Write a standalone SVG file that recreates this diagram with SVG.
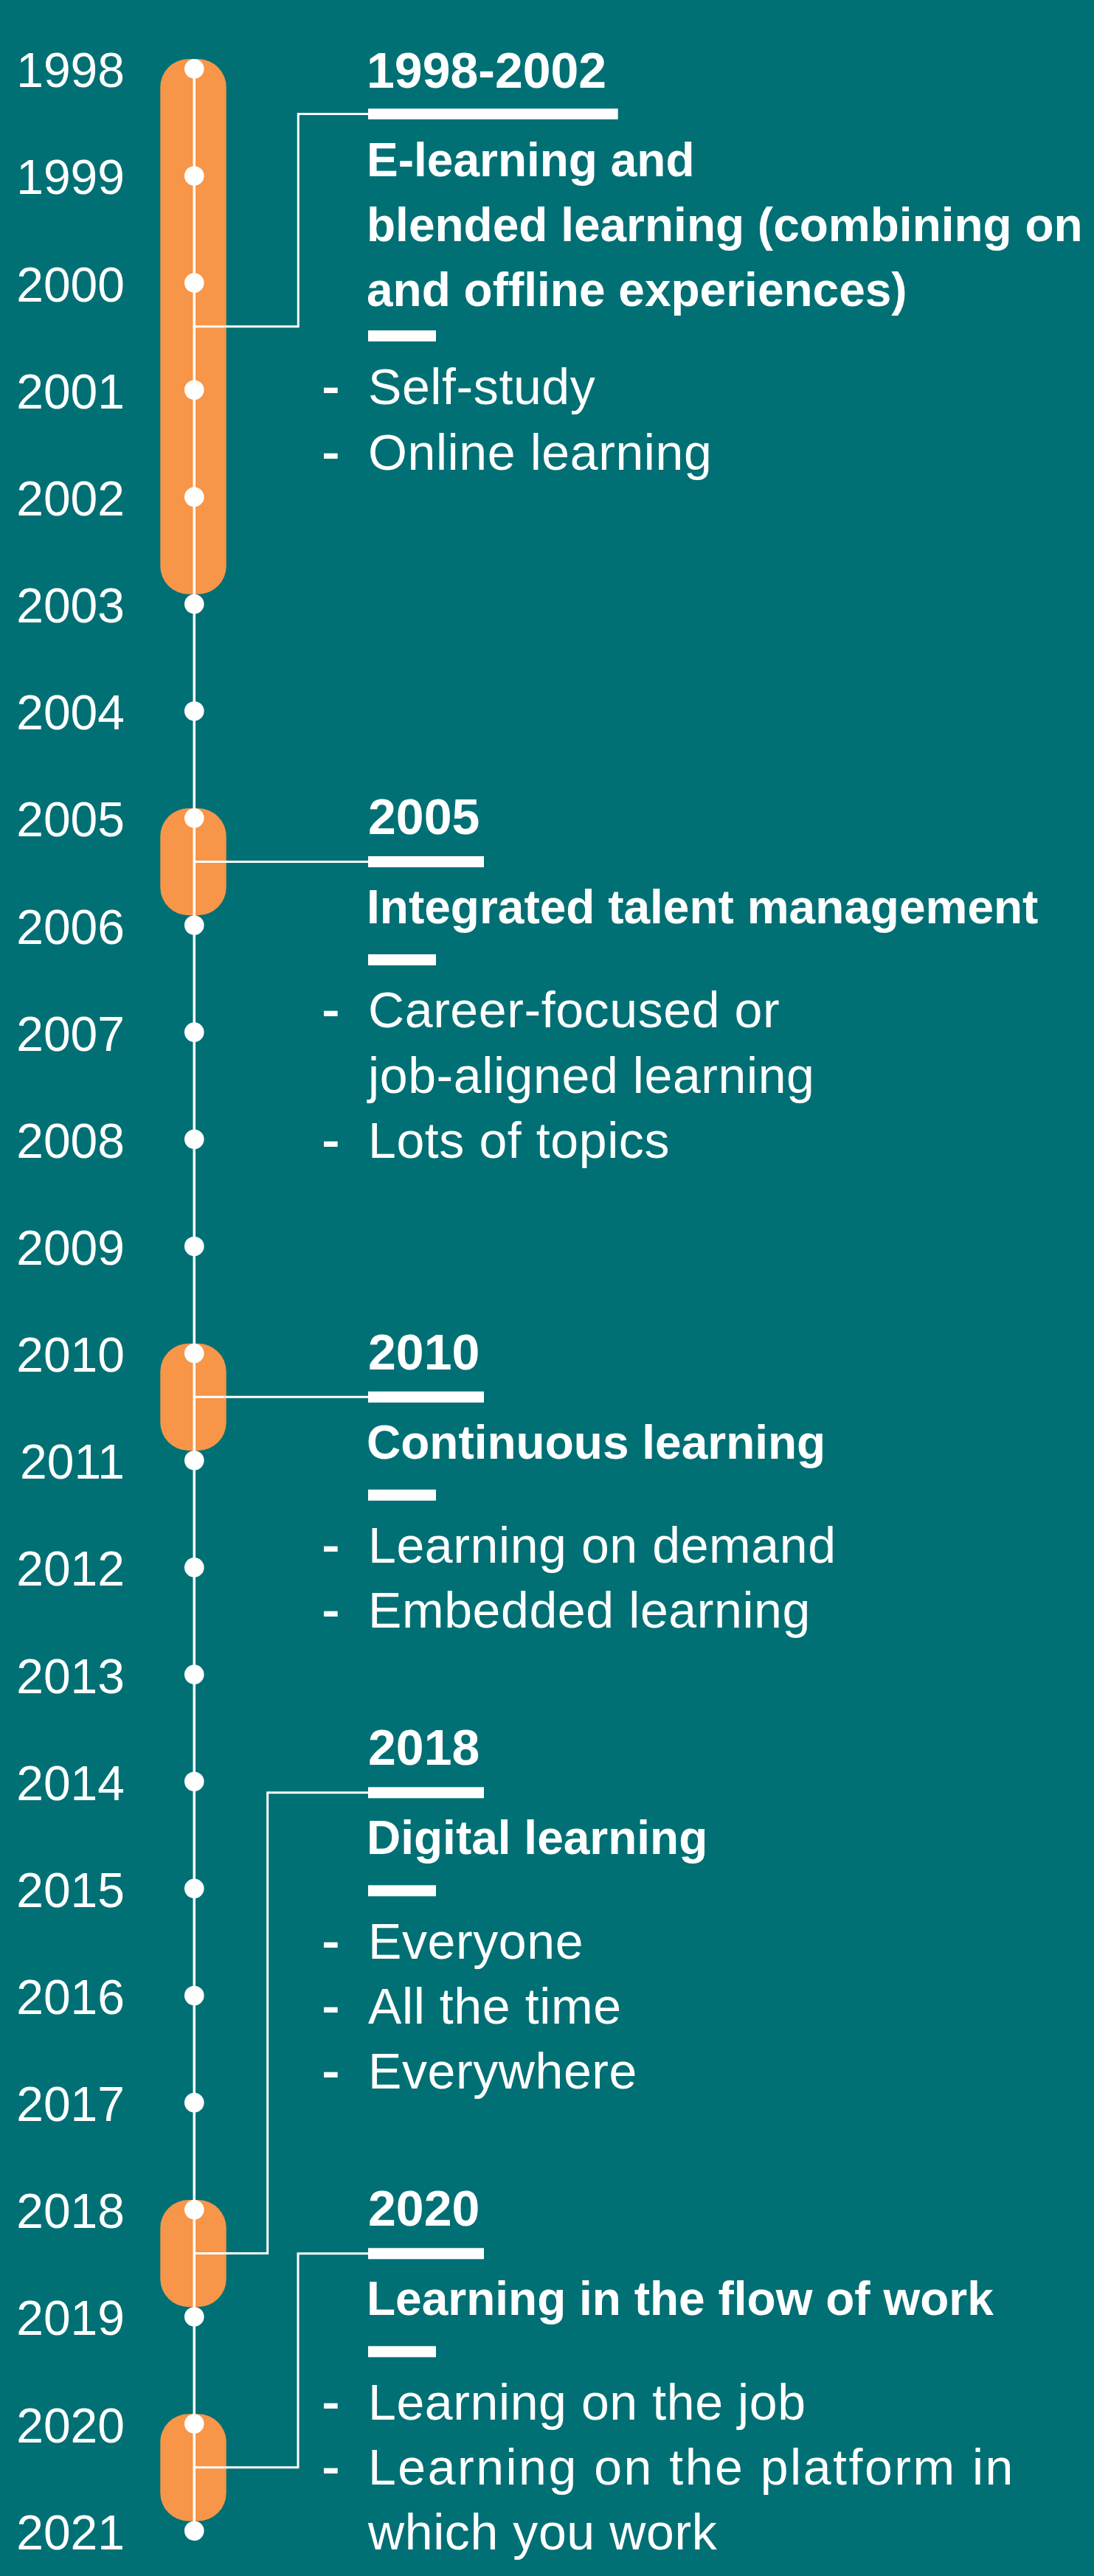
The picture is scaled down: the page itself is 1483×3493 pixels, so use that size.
<svg xmlns="http://www.w3.org/2000/svg" width="1483" height="3493" viewBox="0 0 1483 3493">
  <style>
    text { font-family: "Liberation Sans", Arial, sans-serif; fill: #ffffff; }
    .year { font-size: 66px; text-anchor: end; }
    .head { font-size: 68px; font-weight: 700; }
    .title { font-size: 64px; font-weight: 700; }
    .body { font-size: 68px; letter-spacing: 0.6px; }
    .dash { font-size: 68px; stroke: #ffffff; stroke-width: 2; }
    .span { fill: #F79548; }
    .rule { fill: #ffffff; }
    .dot { fill: #ffffff; }
    .wire { fill: none; stroke: #ffffff; stroke-width: 3; }
    .axis { stroke: #ffffff; stroke-width: 3.5; }
  </style>

  <!-- background -->
  <rect x="0" y="0" width="1483" height="3493" fill="#007075"/>

  <!-- era 1998-2002 -->
  <g id="era-1998">
    <rect class="span" x="217.3" y="80" width="89.4" height="725.7" rx="38"/>
    <text class="head" x="497" y="119">1998-2002</text>
    <rect class="rule" x="499" y="147.3" width="338.7" height="14.5"/>
    <text class="title" x="497" y="239">E-learning and</text>
    <text class="title" x="497" y="327">blended learning (combining on</text>
    <text class="title" x="497" y="415">and offline experiences)</text>
    <rect class="rule" x="499" y="448" width="92" height="15"/>
    <text class="dash" x="437" y="548.3">-</text>
    <text class="body" x="499" y="548.3">Self-study</text>
    <text class="dash" x="437" y="636.7">-</text>
    <text class="body" x="499" y="636.7">Online learning</text>
  </g>

  <!-- era 2005 -->
  <g id="era-2005">
    <rect class="span" x="217.3" y="1096" width="89.4" height="145.2" rx="38"/>
    <text class="head" x="499" y="1131">2005</text>
    <rect class="rule" x="499" y="1161" width="157" height="15"/>
    <text class="title" x="497" y="1251.7">Integrated talent management</text>
    <rect class="rule" x="499" y="1294" width="92" height="15"/>
    <text class="dash" x="437" y="1393.3">-</text>
    <text class="body" x="499" y="1393.3">Career-focused or</text>
    <text class="body" x="499" y="1481.6">job-aligned learning</text>
    <text class="dash" x="437" y="1569.9">-</text>
    <text class="body" x="499" y="1569.9">Lots of topics</text>
  </g>

  <!-- era 2010 -->
  <g id="era-2010">
    <rect class="span" x="217.3" y="1821.8" width="89.4" height="145.2" rx="38"/>
    <text class="head" x="499" y="1856.8">2010</text>
    <rect class="rule" x="499" y="1886.8" width="157" height="15"/>
    <text class="title" x="497" y="1977.5">Continuous learning</text>
    <rect class="rule" x="499" y="2019.8" width="92" height="15"/>
    <text class="dash" x="437" y="2119.1">-</text>
    <text class="body" x="499" y="2119.1">Learning on demand</text>
    <text class="dash" x="437" y="2207.4">-</text>
    <text class="body" x="499" y="2207.4">Embedded learning</text>
  </g>

  <!-- era 2018 -->
  <g id="era-2018">
    <rect class="span" x="217.3" y="2983" width="89.4" height="145.2" rx="38"/>
    <text class="head" x="499" y="2393.3">2018</text>
    <rect class="rule" x="499" y="2423.3" width="157" height="15"/>
    <text class="title" x="497" y="2514">Digital learning</text>
    <rect class="rule" x="499" y="2556.3" width="92" height="15"/>
    <text class="dash" x="437" y="2655.6">-</text>
    <text class="body" x="499" y="2655.6">Everyone</text>
    <text class="dash" x="437" y="2743.9">-</text>
    <text class="body" x="499" y="2743.9">All the time</text>
    <text class="dash" x="437" y="2832.2">-</text>
    <text class="body" x="499" y="2832.2">Everywhere</text>
  </g>

  <!-- era 2020 -->
  <g id="era-2020">
    <rect class="span" x="217.3" y="3273.3" width="89.4" height="145.2" rx="38"/>
    <text class="head" x="499" y="3018.3">2020</text>
    <rect class="rule" x="499" y="3048.3" width="157" height="15"/>
    <text class="title" x="497" y="3139">Learning in the flow of work</text>
    <rect class="rule" x="499" y="3181.3" width="92" height="15"/>
    <text class="dash" x="437" y="3280.6">-</text>
    <text class="body" x="499" y="3280.6">Learning on the job</text>
    <text class="dash" x="437" y="3368.9">-</text>
    <text class="body" x="499" y="3368.9" textLength="875" lengthAdjust="spacing">Learning on the platform in</text>
    <text class="body" x="499" y="3457.2">which you work</text>
  </g>

  <!-- vertical time axis -->
  <g id="axis">
    <line class="axis" x1="263.3" y1="93.3" x2="263.3" y2="3431.8"/>
  </g>

  <!-- connectors from each span to its description -->
  <g id="connectors">
    <path class="wire" d="M263.3 442.8 H404.3 V154.5 H499"/>
    <path class="wire" d="M263.3 1168.6 H499"/>
    <path class="wire" d="M263.3 1894.3 H499"/>
    <path class="wire" d="M263.3 3055.5 H362.7 V2430.8 H499"/>
    <path class="wire" d="M263.3 3345.8 H404 V3055.8 H499"/>
  </g>

  <!-- year ticks: dot on the axis plus label -->
  <g id="years">
    <g id="y1998"><circle class="dot" cx="263.3" cy="93.3" r="13.3"/><text class="year" x="169" y="118.3">1998</text></g>
    <g id="y1999"><circle class="dot" cx="263.3" cy="238.45" r="13.3"/><text class="year" x="169" y="263.45">1999</text></g>
    <g id="y2000"><circle class="dot" cx="263.3" cy="383.6" r="13.3"/><text class="year" x="169" y="408.6">2000</text></g>
    <g id="y2001"><circle class="dot" cx="263.3" cy="528.75" r="13.3"/><text class="year" x="169" y="553.75">2001</text></g>
    <g id="y2002"><circle class="dot" cx="263.3" cy="673.9" r="13.3"/><text class="year" x="169" y="698.9">2002</text></g>
    <g id="y2003"><circle class="dot" cx="263.3" cy="819.05" r="13.3"/><text class="year" x="169" y="844.05">2003</text></g>
    <g id="y2004"><circle class="dot" cx="263.3" cy="964.2" r="13.3"/><text class="year" x="169" y="989.2">2004</text></g>
    <g id="y2005"><circle class="dot" cx="263.3" cy="1109.35" r="13.3"/><text class="year" x="169" y="1134.35">2005</text></g>
    <g id="y2006"><circle class="dot" cx="263.3" cy="1254.5" r="13.3"/><text class="year" x="169" y="1279.5">2006</text></g>
    <g id="y2007"><circle class="dot" cx="263.3" cy="1399.65" r="13.3"/><text class="year" x="169" y="1424.65">2007</text></g>
    <g id="y2008"><circle class="dot" cx="263.3" cy="1544.8" r="13.3"/><text class="year" x="169" y="1569.8">2008</text></g>
    <g id="y2009"><circle class="dot" cx="263.3" cy="1689.95" r="13.3"/><text class="year" x="169" y="1714.95">2009</text></g>
    <g id="y2010"><circle class="dot" cx="263.3" cy="1835.1" r="13.3"/><text class="year" x="169" y="1860.1">2010</text></g>
    <g id="y2011"><circle class="dot" cx="263.3" cy="1980.25" r="13.3"/><text class="year" x="169" y="2005.25">2011</text></g>
    <g id="y2012"><circle class="dot" cx="263.3" cy="2125.4" r="13.3"/><text class="year" x="169" y="2150.4">2012</text></g>
    <g id="y2013"><circle class="dot" cx="263.3" cy="2270.55" r="13.3"/><text class="year" x="169" y="2295.55">2013</text></g>
    <g id="y2014"><circle class="dot" cx="263.3" cy="2415.7" r="13.3"/><text class="year" x="169" y="2440.7">2014</text></g>
    <g id="y2015"><circle class="dot" cx="263.3" cy="2560.85" r="13.3"/><text class="year" x="169" y="2585.85">2015</text></g>
    <g id="y2016"><circle class="dot" cx="263.3" cy="2706" r="13.3"/><text class="year" x="169" y="2731">2016</text></g>
    <g id="y2017"><circle class="dot" cx="263.3" cy="2851.15" r="13.3"/><text class="year" x="169" y="2876.15">2017</text></g>
    <g id="y2018"><circle class="dot" cx="263.3" cy="2996.3" r="13.3"/><text class="year" x="169" y="3021.3">2018</text></g>
    <g id="y2019"><circle class="dot" cx="263.3" cy="3141.45" r="13.3"/><text class="year" x="169" y="3166.45">2019</text></g>
    <g id="y2020"><circle class="dot" cx="263.3" cy="3286.6" r="13.3"/><text class="year" x="169" y="3311.6">2020</text></g>
    <g id="y2021"><circle class="dot" cx="263.3" cy="3431.75" r="13.3"/><text class="year" x="169" y="3456.75">2021</text></g>
  </g>
</svg>
